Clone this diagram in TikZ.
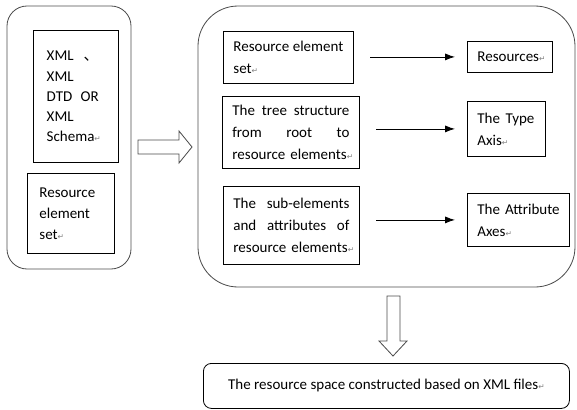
\documentclass[tikz,border=0pt]{standalone}
\usepackage{fontspec}
\usetikzlibrary{arrows.meta}
\setmainfont{Carlito}
\newfontfamily\cjkfont{Noto Sans CJK SC}
\newfontfamily\markfont{DejaVu Sans}
\newcommand\retmark{{\markfont\fontsize{6.5}{6.5}\selectfont\textcolor{gray}{↵}}}
\newcommand\jline[2]{\makebox[#1][s]{#2}}
\tikzset{
	box/.style={draw,line width=0.7pt,anchor=north west,inner xsep=0.3cm,inner ysep=0pt,align=left,font=\fontsize{12.8}{18.7}\selectfont},
	roundbox/.style={draw=black!70,line width=0.7pt},
	hollow/.style={draw=black!70,line width=0.7pt,fill=white},
	arr/.style={-{Latex[length=8.5pt,width=6pt]},line width=0.7pt,shorten <=0.5cm,shorten >=0.36cm}
}
\begin{document}
\begin{tikzpicture}[x=0.03cm,y=-0.03cm]
	    \useasboundingbox (0,0) rectangle (577,409);
	    % outer boxes
	    \draw[roundbox,rounded corners=0.6cm](7,6) rectangle (131,269);
	    \draw[roundbox,rounded corners=1.2cm](198,6) rectangle (575,287);
	    % left column
	    \node[box,inner xsep=0.4cm,text width=1.75cm,minimum height=3.96cm,font=\fontsize{12.8}{17.2}\selectfont](xml) at (33,30){\jline{1.56cm}{XML\hfill{\cjkfont 、}}\\XML\\\jline{1.56cm}{DTD\hfill OR}\\XML\\Schema\retmark};
	    \node[box,inner xsep=0.36cm,text width=1.89cm,minimum height=2.4cm,font=\fontsize{12.8}{18}\selectfont](res) at (27,173){Resource\\element\\set\retmark};
	    % middle column
	    \node[box,text width=3.3cm,minimum height=1.56cm](set) at (223,31){\jline{3.3cm}{Resource\hfill element}\\set\retmark};
	    \node[box,text width=3.51cm,minimum height=2.16cm](tree) at (222,96){\jline{3.51cm}{The\hfill tree\hfill structure}\\\jline{3.51cm}{from\hfill root\hfill to}\\\mbox{resource elements\retmark}};
	    \node[box,text width=3.48cm,minimum height=2.34cm](sub) at (223,186){\jline{3.48cm}{The\hfill sub-elements}\\\jline{3.48cm}{and\hfill attributes\hfill of}\\\mbox{resource elements\retmark}};
	    % right column
	    \node[box,text width=1.95cm,minimum height=0.93cm](rsc) at (467,41){Resources\retmark};
	    \node[box,text width=1.74cm,minimum height=1.65cm](type) at (467,101){\jline{1.71cm}{The\hfill Type}\\Axis\retmark};
	    \node[box,text width=2.46cm,minimum height=1.59cm](attr) at (467,193){\mbox{The Attribute}\\Axes\retmark};
	    % bottom
	    \node[draw,line width=0.7pt,rounded corners=0.24cm,anchor=north west,minimum width=10.98cm,minimum height=1.35cm,inner sep=0pt,font=\fontsize{12.8}{14}\selectfont](space) at (203,363){\raisebox{3pt}{The resource space constructed based on XML files\retmark}};
	    % arrows
	    \draw[arr](set.east |- rsc.west)--(rsc.west);
	    \draw[arr](tree.east |- type.west)--(type.west);
	    \draw[arr](sub.east |- attr.west)--(attr.west);
	    \draw[hollow](138,140)--(179,140)--(179,131)--(192,147)--(179,163)--(179,154)--(138,154)--cycle;
	    \draw[hollow](387,296)--(400,296)--(400,341)--(407,341)--(393,356)--(379,341)--(387,341)--cycle;
	\end{tikzpicture}
\end{document}
